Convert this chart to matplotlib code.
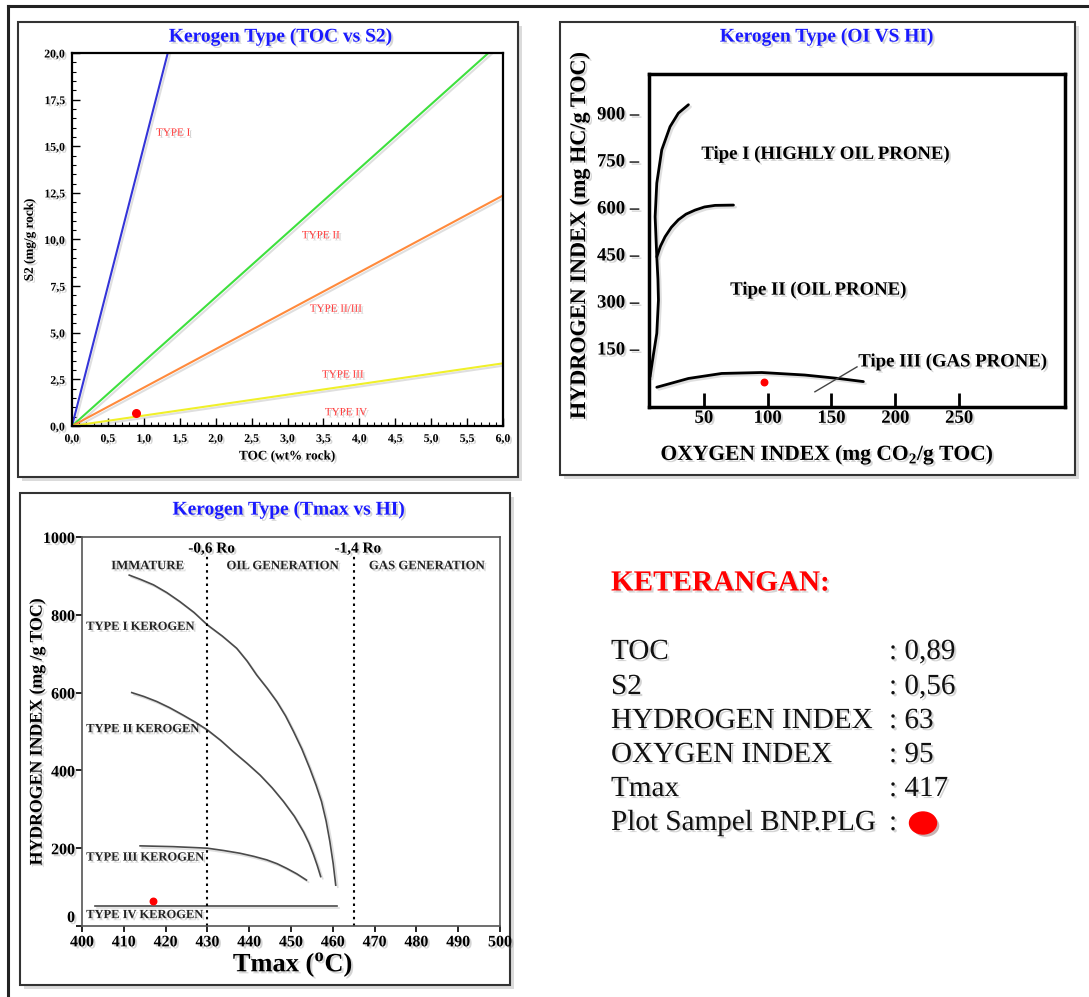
import matplotlib
matplotlib.use("Agg")
import matplotlib.pyplot as plt
import matplotlib.patheffects as pe
from matplotlib.patches import Rectangle, Ellipse
from matplotlib.lines import Line2D
from matplotlib.ticker import MultipleLocator, FuncFormatter
import numpy as np

plt.rcParams["font.family"] = ["Liberation Serif", "DejaVu Serif"]
plt.rcParams["mathtext.fontset"] = "custom"
plt.rcParams["mathtext.rm"] = "Liberation Serif"
plt.rcParams["mathtext.bf"] = "Liberation Serif:bold"

W, H = 1089, 997

# ---------- data: TOC vs S2 ----------
toc_types = ["TYPE I", "TYPE II", "TYPE II/III", "TYPE III", "TYPE IV"]
toc_label_x = [1.17, 3.2, 3.31, 3.48, 3.52]
toc_label_y = [15.7, 10.2, 6.26, 2.73, 0.71]
line_slopes = [15.0, 3.45, 2.06, 0.56]          # S2 / TOC
line_colors = ["#3434d8", "#3ee03e", "#ff8a3c", "#f0f02a"]
sample_toc, sample_s2 = [0.89], [0.71]

# ---------- data: OI vs HI ----------
t1_oi = [7.8, 10.5, 13.1, 14.4, 14.0, 13.1, 11.8, 13.1, 17.0, 23.5, 30.0, 37.9]
t1_hi = [58, 130, 197, 303, 370, 441, 569, 676, 782, 856, 899, 926]
t2_oi = [13.1, 16.0, 19.6, 24.5, 30.0, 36.0, 43.1, 50.5, 58.8, 73.2]
t2_hi = [441, 475, 505, 535, 559, 577, 590, 600, 605, 606]
t3_oi = [13.1, 37.9, 64.0, 95.4, 129.0, 155.5, 175.0]
t3_hi = [25, 53, 69, 72, 64, 53, 43]
leader_oi, leader_hi = [137, 170], [10.5, 90]
sample_oi, sample_hi = [97], [43]
oi_ticks = [50, 100, 150, 200, 250]
hi_ticks = [150, 300, 450, 600, 750, 900]

# ---------- data: Tmax vs HI ----------
k1_t = [411.3, 414.0, 417.1, 420.3, 423.4, 426.8, 430.0, 433.6, 437.0, 439.5, 441.8, 444.3,
        446.6, 448.7, 450.6, 452.6, 454.5, 456.0, 457.3, 458.4, 459.3, 460.1, 460.7]
k1_hi = [902, 891, 877, 857, 834, 806, 774, 745, 714, 681, 645, 611,
         577, 540, 500, 455, 405, 362, 320, 270, 217, 160, 105]
k2_t = [411.9, 414.8, 417.9, 421.0, 424.2, 427.1, 430.0, 433.2, 436.2, 439.5, 442.6,
        445.5, 448.2, 450.8, 453.0, 454.3, 455.4, 456.3, 457.1]
k2_hi = [600, 590, 577, 561, 542, 524, 504, 477, 448, 418, 388, 355, 320, 282, 242, 213, 183, 155, 127]
k3_t = [413.9, 417.8, 421.8, 426.0, 430.0, 433.9, 437.8, 441.1, 444.2, 446.7, 449.0, 451.4, 453.7]
k3_hi = [206, 205, 204, 202, 200, 194, 187, 179, 170, 160, 148, 134, 118]
k4_t, k4_hi = [403.1, 461.1], [51, 51]
ro_t = [430, 465]
ro_labels = ["-0,6 Ro", "-1,4 Ro"]
zone_names = ["IMMATURE", "OIL GENERATION", "GAS GENERATION"]
zone_t = [415.7, 448.0, 482.5]
kerogen_names = ["TYPE I KEROGEN", "TYPE II KEROGEN", "TYPE III KEROGEN", "TYPE IV KEROGEN"]
kerogen_hi = [769, 506, 176, 28]
sample_tmax, sample_hi3 = [417], [64]

# ---------- legend ----------
leg_names = ["TOC", "S2", "HYDROGEN INDEX", "OXYGEN INDEX", "Tmax", "Plot Sampel BNP.PLG"]
leg_values = [": 0,89", ": 0,56", ": 63", ": 95", ": 417", ":"]


def rect(l, t, r, b):
    return [l / W, 1 - b / H, (r - l) / W, (b - t) / H]


def fx(x):
    return x / W


def fy(y):
    return 1 - y / H


SH = [pe.withSimplePatchShadow(offset=(1.5, -1.5), shadow_rgbFace="0.45", alpha=0.3)]
LSH = [pe.SimpleLineShadow(offset=(1.5, -1.5), shadow_color="0.5", alpha=0.25), pe.Normal()]

fig = plt.figure(figsize=(W / 100, H / 100), dpi=100)
fig.patch.set_facecolor("white")

# outer frame lines
fig.add_artist(Line2D([fx(8), fx(8)], [0, fy(6)], color="#222", lw=2.2))
fig.add_artist(Line2D([fx(8), 1], [fy(6), fy(6)], color="#222", lw=2.2))

# panel boxes
for (l, t, r, b) in [(18, 22, 518, 477), (560, 22, 1075, 475), (20, 493, 510, 985)]:
    box = Rectangle((fx(l), fy(b)), (r - l) / W, (b - t) / H, transform=fig.transFigure,
                    facecolor="white", edgecolor="#333", lw=1.5, zorder=-1,
                    path_effects=[pe.withSimplePatchShadow(offset=(3, -3), shadow_rgbFace="0.6", alpha=0.35)])
    fig.add_artist(box)

# ===== Panel 1: TOC vs S2 =====
ax1 = fig.add_axes(rect(72, 53, 503, 426))
xs = np.array([0.0, 6.0])
for s, c in zip(line_slopes, line_colors):
    ax1.plot(xs, s * xs, color=c, lw=1.5, path_effects=LSH, clip_on=True)
ax1.scatter(sample_toc, sample_s2, s=30, color="red", zorder=5)
for name, x, y in zip(toc_types, toc_label_x, toc_label_y):
    ax1.text(x, y, name, color="#ff3b3b", fontsize=8, ha="left", va="center", path_effects=SH)
ax1.set_xlim(0, 6)
ax1.set_ylim(0, 20)
ax1.xaxis.set_major_locator(MultipleLocator(0.5))
ax1.xaxis.set_minor_locator(MultipleLocator(0.1))
ax1.yaxis.set_major_locator(MultipleLocator(2.5))
ax1.yaxis.set_minor_locator(MultipleLocator(0.5))
comma = FuncFormatter(lambda v, _: f"{v:.1f}".replace(".", ","))
ax1.xaxis.set_major_formatter(comma)
ax1.yaxis.set_major_formatter(comma)
ax1.tick_params(which="major", direction="in", length=6, width=1, labelsize=8.5, pad=5)
ax1.tick_params(which="minor", direction="in", length=3, width=0.8)
for lbl in ax1.get_xticklabels() + ax1.get_yticklabels():
    lbl.set_fontweight("bold")
    lbl.set_path_effects(SH)
for sp in ax1.spines.values():
    sp.set_linewidth(1.6)
ax1.set_xlabel("TOC (wt% rock)", fontsize=9.5, fontweight="bold", labelpad=4, path_effects=SH)
ax1.set_ylabel("S2 (mg/g rock)", fontsize=9.5, fontweight="bold", labelpad=6, path_effects=SH)
fig.text(fx(281), fy(37), "Kerogen Type (TOC vs S2)", color="#1a1aff", fontsize=14,
         fontweight="bold", ha="center", va="center", path_effects=SH)

# ===== Panel 2: OI vs HI =====
ax2 = fig.add_axes(rect(649, 74, 1065, 407))
for xo, yo in [(t1_oi, t1_hi), (t2_oi, t2_hi), (t3_oi, t3_hi)]:
    ax2.plot(xo, yo, color="black", lw=2, solid_capstyle="round", path_effects=LSH)
ax2.plot(leader_oi, leader_hi, color="#444", lw=1)
ax2.scatter(sample_oi, sample_hi, s=22, color="red", zorder=5)
ax2.text(48, 768, "Tipe I (HIGHLY OIL PRONE)", fontsize=13.5, fontweight="bold", va="center", path_effects=SH)
ax2.text(70.6, 335, "Tipe II (OIL PRONE)", fontsize=13.5, fontweight="bold", va="center", path_effects=SH)
ax2.text(171, 106, "Tipe III (GAS PRONE)", fontsize=13.5, fontweight="bold", va="center", path_effects=SH)
ax2.set_xlim(7, 333)
ax2.set_ylim(-38, 1024)
ax2.set_xticks(oi_ticks)
ax2.set_yticks(hi_ticks)
ax2.set_yticklabels([f"{v} \u2013" for v in hi_ticks])
ax2.tick_params(axis="x", direction="in", length=10, width=2, labelsize=13.5, pad=2)
ax2.tick_params(axis="y", length=0, labelsize=13.5, pad=7)
for lbl in ax2.get_xticklabels() + ax2.get_yticklabels():
    lbl.set_fontweight("bold")
    lbl.set_path_effects(SH)
for sp in ax2.spines.values():
    sp.set_linewidth(2.5)
fig.text(fx(827), fy(455), r"OXYGEN INDEX (mg CO$_\mathbf{2}$/g TOC)", fontsize=15.5,
         fontweight="bold", ha="center", va="center", path_effects=SH)
fig.text(fx(580), fy(235), "HYDROGEN INDEX (mg HC/g TOC)", fontsize=16, rotation=90,
         fontweight="bold", ha="center", va="center", path_effects=SH)
fig.text(fx(827), fy(37), "Kerogen Type (OI VS HI)", color="#1a1aff", fontsize=14,
         fontweight="bold", ha="center", va="center", path_effects=SH)

# ===== Panel 3: Tmax vs HI =====
ax3 = fig.add_axes(rect(82, 537, 500, 926))
for tx, hy in [(k1_t, k1_hi), (k2_t, k2_hi), (k3_t, k3_hi), (k4_t, k4_hi)]:
    ax3.plot(tx, hy, color="#4a4a4a", lw=1.2, path_effects=LSH)
for t, lab in zip(ro_t, ro_labels):
    ax3.plot([t, t], [0, 955], color="black", lw=1.5, ls=(0, (1.2, 2)))
    ax3.text(t + 1, 969, lab, fontsize=11, fontweight="bold", ha="center", va="center", path_effects=SH)
for name, t in zip(zone_names, zone_t):
    ax3.text(t, 925, name, fontsize=9.2, fontweight="bold", ha="center", va="center",
             color="#222", path_effects=SH)
for name, hv in zip(kerogen_names, kerogen_hi):
    ax3.text(401, hv, name, fontsize=9, fontweight="bold", ha="left", va="center",
             color="#222", path_effects=SH)
ax3.scatter(sample_tmax, sample_hi3, s=22, color="red", zorder=5)
ax3.set_xlim(400, 500)
ax3.set_ylim(0, 1000)
ax3.set_xticks(np.arange(400, 501, 10))
ax3.set_yticks(np.arange(0, 1001, 200))
ax3.tick_params(direction="out", length=4, width=1.2, labelsize=11.5, pad=1)
ax3.tick_params(axis="x", pad=2)
for lbl in ax3.get_xticklabels() + ax3.get_yticklabels():
    lbl.set_fontweight("bold")
    lbl.set_path_effects(SH)
ax3.get_yticklabels()[0].set_va("bottom")
for sp in ax3.spines.values():
    sp.set_linewidth(1.2)
    sp.set_color("#555")
fig.text(fx(293), fy(965), r"Tmax ($^{\mathbf{o}}$C)", fontsize=19, fontweight="bold",
         ha="center", va="center", path_effects=SH)
fig.text(fx(37), fy(732), "HYDROGEN INDEX (mg /g TOC)", fontsize=12.8, rotation=90,
         fontweight="bold", ha="center", va="center", path_effects=SH)
fig.text(fx(289), fy(510), "Kerogen Type (Tmax vs HI)", color="#1a1aff", fontsize=14,
         fontweight="bold", ha="center", va="center", path_effects=SH)

# ===== Legend (Keterangan) =====
fig.text(fx(611), fy(583), "KETERANGAN:", color="red", fontsize=21, fontweight="bold",
         ha="left", va="center", path_effects=SH)
row_y = [652, 687, 721, 755, 789, 823]
for name, val, y in zip(leg_names, leg_values, row_y):
    fig.text(fx(611), fy(y), name, fontsize=21, ha="left", va="center", color="#111", path_effects=SH)
    fig.text(fx(889), fy(y), val, fontsize=21, ha="left", va="center", color="#111", path_effects=SH)
fig.add_artist(Ellipse((fx(923), fy(823)), 27 / W, 22 / H, transform=fig.transFigure,
                       color="red", path_effects=[pe.withSimplePatchShadow(offset=(2, -2), alpha=0.3)]))

fig.savefig("out.png", dpi=100, facecolor="white")
